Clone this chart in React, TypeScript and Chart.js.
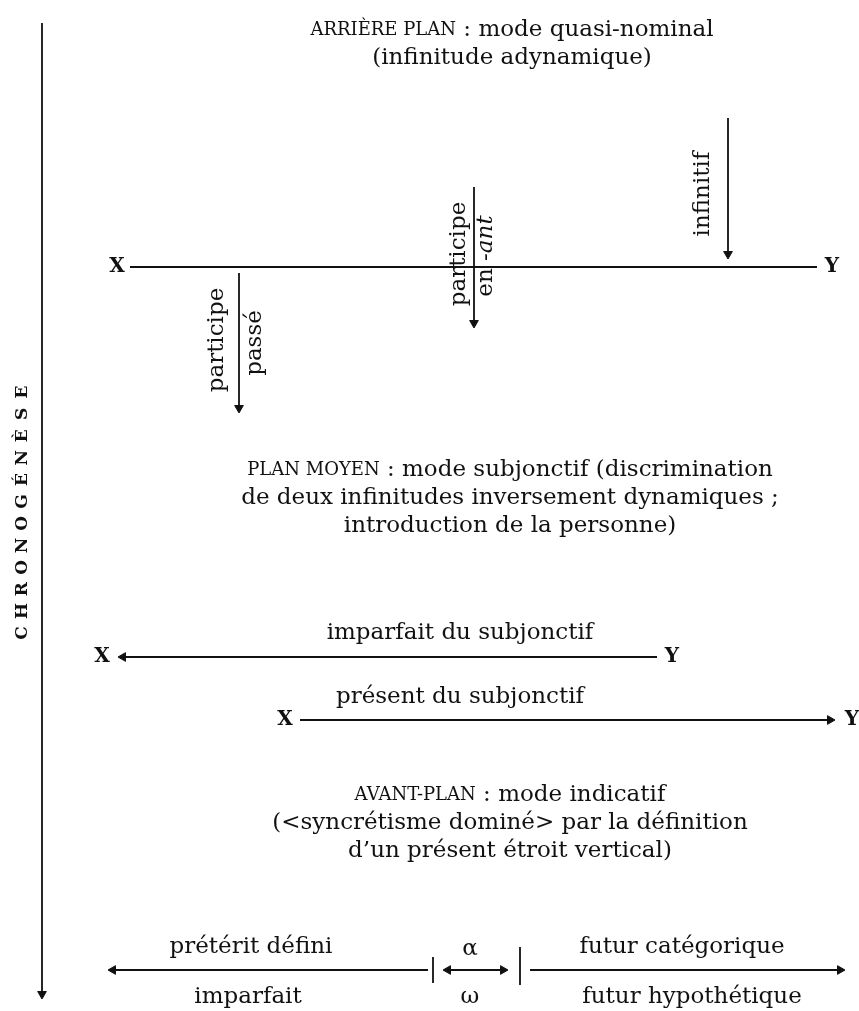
import React, { useEffect, useRef } from "react";
import { Chart, registerables } from "chart.js";

Chart.register(...registerables);

// Diagram coordinate system: x 0..859 (left→right), y 0..1011 (top→bottom)
const X_RANGE = [0, 859];
const Y_RANGE = [0, 1011];

// Line segments [x1, y1, x2, y2]
const segments: number[][] = [
  [42, 23, 42, 994], // chronogénèse axis
  [130, 267, 817, 267], // arrière plan X—Y
  [728, 118, 728, 254], // infinitif
  [474, 187, 474, 323], // participe en -ant
  [239, 273, 239, 408], // participe passé
  [123, 657, 657, 657], // imparfait du subjonctif
  [300, 720, 830, 720], // présent du subjonctif
  [113, 970, 428, 970], // prétérit / imparfait
  [433, 957, 433, 983], // bar 1
  [448, 970, 503, 970], // alpha-omega
  [520, 947, 520, 985], // bar 2
  [530, 970, 840, 970], // futur
];

// Arrowheads: centre x, centre y, direction (degrees, 0 = up)
const arrowX = [42, 728, 474, 239, 123, 830, 113, 448, 503, 840];
const arrowY = [994, 254, 323, 408, 657, 720, 970, 970, 970, 970];
const arrowDir = [180, 180, 180, 180, 270, 90, 270, 270, 90, 90];

// Endpoint letters
const endLabels = ["X", "Y", "X", "Y", "X", "Y"];
const endX = [117, 832, 102, 672, 285, 852];
const endY = [267, 267, 657, 657, 720, 720];

// Headings: small-caps lead, rest of first line, following lines
const headLead = ["ARRIÈRE PLAN", "PLAN MOYEN", "AVANT-PLAN"];
const headRest = [
  [" : mode quasi-nominal", "(infinitude adynamique)"],
  [
    " : mode subjonctif (discrimination",
    "de deux infinitudes inversement dynamiques ;",
    "introduction de la personne)",
  ],
  [
    " : mode indicatif",
    "(<syncrétisme dominé> par la définition",
    "d’un présent étroit vertical)",
  ],
];
const headX = [512, 510, 510];
const headY = [30, 470, 795];

// Horizontal labels
const hLabels = [
  "imparfait du subjonctif",
  "présent du subjonctif",
  "prétérit défini",
  "imparfait",
  "α",
  "ω",
  "futur catégorique",
  "futur hypothétique",
];
const hX = [460, 460, 251, 248, 470, 470, 682, 692];
const hY = [633, 697, 947, 997, 949, 997, 947, 997];

// Vertical (rotated) labels: plain part, italic part
const vPlain = ["infinitif", "participe", "en ", "participe", "passé"];
const vItalic = ["", "", "-ant", "", ""];
const vX = [703, 459, 486, 217, 255];
const vY = [194, 254, 256, 340, 343];

const axisTitle = "CHRONOGÉNÈSE";
const axisTitleX = 23;
const axisTitleY = [633, 392]; // first letter, last letter

const SERIF = "'DejaVu Serif', serif";
const FS = 23;
const LINE_GAP = 28;

function drawParts(
  ctx: CanvasRenderingContext2D,
  parts: { t: string; f: string }[],
  cx: number,
  cy: number,
  rot = 0
) {
  let total = 0;
  const widths = parts.map((p) => {
    ctx.font = p.f;
    const w = ctx.measureText(p.t).width;
    total += w;
    return w;
  });
  ctx.save();
  ctx.translate(cx, cy);
  ctx.rotate(rot);
  let x = -total / 2;
  parts.forEach((p, i) => {
    ctx.font = p.f;
    ctx.textAlign = "left";
    ctx.textBaseline = "middle";
    ctx.fillText(p.t, x, 0);
    x += widths[i];
  });
  ctx.restore();
}

const textPlugin = {
  id: "diagramText",
  afterDatasetsDraw(chart: any) {
    const ctx: CanvasRenderingContext2D = chart.ctx;
    const xs = chart.scales.x;
    const ys = chart.scales.y;
    const px = (v: number) => xs.getPixelForValue(v);
    const py = (v: number) => ys.getPixelForValue(v);
    ctx.save();
    ctx.fillStyle = "#111";
    const normal = `${FS}px ${SERIF}`;
    const small = `${Math.round(FS * 0.8)}px ${SERIF}`;
    const italic = `italic ${FS}px ${SERIF}`;
    const bold = `bold 20px ${SERIF}`;

    headLead.forEach((lead, i) => {
      const rest = headRest[i];
      drawParts(
        ctx,
        [
          { t: lead, f: small },
          { t: rest[0], f: normal },
        ],
        px(headX[i]),
        py(headY[i])
      );
      for (let k = 1; k < rest.length; k++) {
        drawParts(ctx, [{ t: rest[k], f: normal }], px(headX[i]), py(headY[i] + LINE_GAP * k));
      }
    });

    hLabels.forEach((t, i) => {
      drawParts(ctx, [{ t, f: normal }], px(hX[i]), py(hY[i]));
    });

    endLabels.forEach((t, i) => {
      drawParts(ctx, [{ t, f: bold }], px(endX[i]), py(endY[i]));
    });

    vPlain.forEach((t, i) => {
      const parts = [{ t, f: normal }];
      if (vItalic[i]) parts.push({ t: vItalic[i], f: italic });
      drawParts(ctx, parts, px(vX[i]), py(vY[i]), -Math.PI / 2);
    });

    const letters = Array.from(axisTitle);
    const step = (axisTitleY[0] - axisTitleY[1]) / (letters.length - 1);
    letters.forEach((ch, i) => {
      drawParts(
        ctx,
        [{ t: ch, f: `bold 17px ${SERIF}` }],
        px(axisTitleX),
        py(axisTitleY[0] - step * i),
        -Math.PI / 2
      );
    });
    ctx.restore();
  },
};

export default function App() {
  const ref = useRef<HTMLCanvasElement>(null);
  useEffect(() => {
    document.body.style.margin = "0";
    const lineSets = segments.map((s) => ({
      type: "line" as const,
      data: [
        { x: s[0], y: s[1] },
        { x: s[2], y: s[3] },
      ],
      borderColor: "#111",
      borderWidth: 1.8,
      pointRadius: 0,
      showLine: true,
      fill: false,
      clip: false as any,
    }));
    const arrowSet = {
      type: "scatter" as const,
      data: arrowX.map((x, i) => ({ x, y: arrowY[i] })),
      pointStyle: "triangle" as const,
      rotation: arrowDir,
      radius: 5,
      pointRadius: 5,
      backgroundColor: "#111",
      borderColor: "#111",
      borderWidth: 1,
      clip: false as any,
    };
    const chart = new Chart(ref.current!, {
      type: "scatter",
      data: { datasets: [...lineSets, arrowSet] as any },
      options: {
        animation: false,
        responsive: false,
        devicePixelRatio: 1,
        layout: { padding: 0, autoPadding: false },
        plugins: { legend: { display: false }, tooltip: { enabled: false } },
        events: [],
        scales: {
          x: { type: "linear", min: X_RANGE[0], max: X_RANGE[1], display: false },
          y: { type: "linear", min: Y_RANGE[0], max: Y_RANGE[1], reverse: true, display: false },
        },
      },
      plugins: [textPlugin],
    });
    return () => chart.destroy();
  }, []);
  return (
    <div style={{ position: "absolute", left: 0, top: 0, width: 859, height: 1011, background: "#fff" }}>
      <canvas ref={ref} width={859} height={1011} style={{ display: "block" }} />
    </div>
  );
}
